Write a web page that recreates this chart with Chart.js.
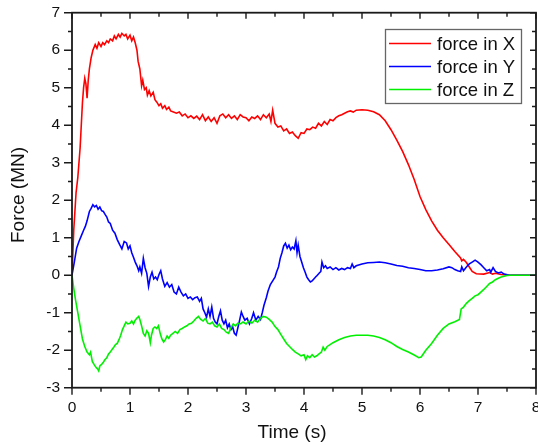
<!doctype html>
<html lang="en">
<head>
<meta charset="utf-8">
<title>Force vs time</title>
<script src="https://cdn.jsdelivr.net/npm/chart.js@4.4.0/dist/chart.umd.min.js"></script>
<style>
  html, body { margin: 0; padding: 0; background: #fff; }
  #chart { display: block; }
</style>
</head>
<body>
<canvas id="chart" width="538" height="446"></canvas>
<script>
// data: time (s) and force (MN)
var seriesNames = ['force in X', 'force in Y', 'force in Z'];

var timeX = [0,0.03,0.07,0.1,0.14,0.18,0.2,0.22,0.24,0.26,0.28,0.3,0.33,0.36,0.4,0.43,0.46,0.5,0.53,0.56,
  0.6,0.63,0.66,0.7,0.73,0.76,0.8,0.83,0.86,0.9,0.93,0.96,1.0,1.03,1.06,1.09,1.12,1.14,1.17,1.2,
  1.22,1.25,1.28,1.3,1.33,1.36,1.4,1.43,1.46,1.5,1.53,1.56,1.6,1.63,1.67,1.7,1.75,1.8,1.85,1.9,
  1.95,2.0,2.05,2.1,2.15,2.2,2.25,2.3,2.35,2.4,2.45,2.5,2.55,2.6,2.65,2.7,2.75,2.8,2.85,2.9,
  2.95,3.0,3.05,3.1,3.15,3.2,3.25,3.3,3.35,3.4,3.43,3.46,3.5,3.55,3.6,3.65,3.7,3.75,3.8,3.85,
  3.9,3.95,4.0,4.05,4.1,4.15,4.2,4.25,4.3,4.35,4.4,4.45,4.5,4.55,4.6,4.65,4.7,4.75,4.8,4.85,
  4.9,5.0,5.1,5.2,5.3,5.4,5.5,5.6,5.7,5.8,5.9,6.0,6.1,6.2,6.3,6.4,6.5,6.6,6.7,6.72,
  6.75,6.8,6.85,6.9,6.97,7.1,7.2,7.25,7.3,7.4,7.55,8];
var forceX = [0,1.2,2.2,2.6,3.4,4.6,5.0,5.25,5.1,4.72,5.2,5.5,5.8,6.0,6.15,6.05,6.2,6.1,6.2,6.15,
  6.25,6.2,6.3,6.25,6.38,6.3,6.42,6.35,6.45,6.38,6.42,6.3,6.4,6.25,6.35,6.2,6.0,5.7,5.5,5.05,
  5.2,4.95,5.0,4.8,4.92,4.78,4.88,4.68,4.62,4.52,4.57,4.45,4.52,4.42,4.48,4.38,4.35,4.32,4.35,4.25,
  4.3,4.2,4.25,4.18,4.24,4.15,4.28,4.12,4.22,4.1,4.2,4.05,4.25,4.3,4.2,4.28,4.18,4.25,4.15,4.28,
  4.22,4.2,4.12,4.22,4.18,4.25,4.15,4.28,4.2,4.3,4.1,4.4,4.05,3.95,3.98,3.85,3.9,3.78,3.82,3.72,
  3.65,3.8,3.78,3.9,3.88,3.95,3.92,4.05,3.98,4.1,4.02,4.15,4.12,4.2,4.25,4.28,4.32,4.36,4.38,4.35,
  4.4,4.41,4.4,4.36,4.28,4.12,3.88,3.6,3.3,2.95,2.55,2.1,1.75,1.45,1.2,1.0,0.82,0.63,0.46,0.38,
  0.42,0.34,0.22,0.1,0.04,0.03,0.07,0.03,0.05,0.02,0,0];

var timeY = [0,0.04,0.08,0.12,0.16,0.2,0.23,0.26,0.3,0.33,0.36,0.39,0.42,0.45,0.48,0.51,0.54,0.57,0.6,0.63,
  0.66,0.7,0.74,0.78,0.82,0.86,0.9,0.94,0.97,1.0,1.03,1.06,1.09,1.12,1.15,1.17,1.2,1.23,1.26,1.29,
  1.32,1.35,1.38,1.41,1.44,1.47,1.5,1.53,1.56,1.6,1.64,1.68,1.72,1.76,1.8,1.84,1.88,1.92,1.96,2.0,
  2.04,2.08,2.12,2.16,2.2,2.23,2.26,2.29,2.32,2.35,2.38,2.41,2.44,2.47,2.5,2.53,2.56,2.59,2.62,2.65,
  2.68,2.71,2.74,2.77,2.8,2.83,2.86,2.89,2.92,2.95,2.98,3.02,3.06,3.1,3.13,3.17,3.21,3.25,3.28,3.31,
  3.35,3.38,3.42,3.46,3.5,3.53,3.56,3.59,3.62,3.65,3.68,3.71,3.74,3.77,3.8,3.83,3.86,3.88,3.9,3.93,
  3.96,3.99,4.02,4.05,4.08,4.11,4.14,4.17,4.2,4.23,4.26,4.29,4.31,4.34,4.37,4.4,4.45,4.5,4.55,4.6,
  4.65,4.7,4.75,4.8,4.83,4.86,4.9,5.0,5.1,5.2,5.3,5.4,5.5,5.6,5.7,5.8,5.9,6.0,6.1,6.2,
  6.3,6.4,6.5,6.55,6.6,6.65,6.7,6.72,6.75,6.8,6.85,6.9,6.95,7.0,7.05,7.1,7.15,7.2,7.22,7.26,
  7.3,7.35,7.4,7.45,7.55,8];
var forceY = [0,0.35,0.72,0.9,1.05,1.2,1.3,1.45,1.7,1.78,1.88,1.82,1.86,1.76,1.82,1.72,1.7,1.62,1.55,1.42,
  1.38,1.2,1.12,0.95,0.82,0.7,0.9,0.86,0.7,0.78,0.6,0.48,0.35,0.25,0.12,0.22,0.05,0.45,0.2,0.05,
  -0.3,-0.05,0.08,-0.1,-0.05,-0.12,0.02,0.12,-0.1,-0.3,-0.2,-0.32,-0.25,-0.45,-0.5,-0.32,-0.45,-0.55,-0.5,-0.62,
  -0.58,-0.65,-0.6,-0.58,-0.7,-0.62,-0.9,-1.0,-1.12,-0.9,-1.1,-0.85,-1.15,-1.25,-1.3,-1.1,-0.95,-1.2,-1.3,-1.2,
  -1.4,-1.3,-1.45,-1.38,-1.55,-1.6,-1.4,-1.2,-0.98,-1.1,-1.2,-1.15,-1.3,-1.15,-1.0,-1.2,-1.1,-1.18,-1.0,-0.8,
  -0.6,-0.42,-0.25,-0.15,-0.05,0.1,0.22,0.45,0.6,0.78,0.85,0.72,0.8,0.68,0.75,0.7,0.92,0.6,0.8,0.5,
  0.35,0.2,0.08,-0.05,-0.12,-0.18,-0.15,-0.1,-0.05,0.0,0.05,0.1,0.35,0.2,0.25,0.18,0.22,0.15,0.2,0.14,
  0.18,0.15,0.2,0.18,0.3,0.2,0.25,0.3,0.33,0.34,0.35,0.33,0.3,0.26,0.24,0.2,0.18,0.15,0.12,0.12,
  0.14,0.17,0.22,0.2,0.15,0.12,0.1,0.22,0.12,0.22,0.3,0.35,0.4,0.35,0.28,0.2,0.12,0.15,0.08,0.2,
  0.1,0.06,0.08,0.03,0,0];

var timeZ = [0,0.03,0.06,0.1,0.14,0.18,0.22,0.26,0.3,0.32,0.35,0.38,0.41,0.44,0.46,0.48,0.51,0.54,0.57,0.6,
  0.63,0.66,0.69,0.72,0.75,0.78,0.81,0.84,0.87,0.9,0.93,0.96,1.0,1.03,1.06,1.09,1.12,1.15,1.17,1.2,
  1.23,1.26,1.29,1.32,1.35,1.37,1.4,1.43,1.46,1.49,1.52,1.55,1.58,1.61,1.64,1.67,1.7,1.74,1.78,1.82,
  1.86,1.9,1.94,1.98,2.02,2.06,2.1,2.14,2.18,2.22,2.26,2.3,2.34,2.38,2.42,2.46,2.5,2.54,2.58,2.62,
  2.66,2.7,2.74,2.78,2.82,2.86,2.9,2.95,3.0,3.05,3.1,3.15,3.2,3.25,3.3,3.35,3.4,3.45,3.5,3.55,
  3.6,3.65,3.7,3.75,3.8,3.85,3.9,3.95,4.0,4.03,4.06,4.1,4.14,4.18,4.22,4.26,4.3,4.33,4.36,4.4,
  4.45,4.5,4.55,4.6,4.7,4.8,4.9,5.0,5.1,5.2,5.3,5.4,5.5,5.6,5.7,5.8,5.9,5.98,6.02,6.1,
  6.2,6.3,6.4,6.5,6.6,6.68,6.71,6.75,6.8,6.85,6.9,6.95,7.0,7.05,7.1,7.15,7.2,7.25,7.3,7.35,
  7.4,7.5,7.55,8];
var forceZ = [0,-0.35,-0.65,-1.0,-1.35,-1.7,-1.9,-2.05,-2.12,-2.05,-2.3,-2.38,-2.45,-2.5,-2.55,-2.42,-2.38,-2.32,-2.25,-2.2,
  -2.1,-2.05,-1.98,-1.92,-1.85,-1.82,-1.72,-1.6,-1.45,-1.35,-1.25,-1.3,-1.28,-1.22,-1.3,-1.2,-1.14,-1.1,-1.18,-1.35,
  -1.55,-1.62,-1.48,-1.55,-1.8,-1.6,-1.42,-1.38,-1.42,-1.35,-1.55,-1.7,-1.78,-1.72,-1.62,-1.68,-1.6,-1.55,-1.5,-1.55,
  -1.45,-1.42,-1.38,-1.35,-1.3,-1.28,-1.22,-1.15,-1.1,-1.18,-1.22,-1.15,-1.28,-1.3,-1.25,-1.35,-1.38,-1.3,-1.42,-1.45,
  -1.52,-1.55,-1.4,-1.3,-1.35,-1.28,-1.3,-1.25,-1.3,-1.22,-1.28,-1.2,-1.25,-1.15,-1.1,-1.12,-1.18,-1.25,-1.37,-1.45,
  -1.58,-1.7,-1.82,-1.9,-1.98,-2.05,-2.1,-2.15,-2.12,-2.25,-2.15,-2.2,-2.12,-2.18,-2.15,-2.1,-2.05,-1.92,-2.0,-1.9,
  -1.85,-1.8,-1.76,-1.72,-1.66,-1.62,-1.6,-1.6,-1.6,-1.62,-1.66,-1.72,-1.8,-1.9,-1.98,-2.05,-2.13,-2.2,-2.18,-2.0,
  -1.82,-1.6,-1.42,-1.3,-1.24,-1.18,-0.9,-0.85,-0.75,-0.68,-0.62,-0.55,-0.52,-0.45,-0.38,-0.3,-0.22,-0.18,-0.12,-0.08,
  -0.05,-0.01,0,0];

var colors = ['#ff0000', '#0000ff', '#00f000'];

function pairs(t, v) {
  var out = [];
  for (var i = 0; i < t.length; i++) out.push({x: t[i], y: v[i]});
  return out;
}

var FONT = '"Liberation Sans", Arial, sans-serif';

// frame, in/out ticks, axis titles and the boxed legend
var decor = {
  id: 'decor',
  afterDraw: function(chart) {
    var ctx = chart.ctx, a = chart.chartArea;
    var xs = chart.scales.x, ys = chart.scales.y;
    ctx.save();
    ctx.strokeStyle = '#1a1a1a';
    ctx.lineWidth = 1.8;
    ctx.strokeRect(a.left, a.top, a.right - a.left, a.bottom - a.top);

    ctx.lineWidth = 1.4;
    ctx.beginPath();
    for (var v = 0; v <= 8.001; v += 0.5) {
      var px = xs.getPixelForValue(v);
      var major = Math.abs(v - Math.round(v)) < 0.01;
      ctx.moveTo(px, a.bottom); ctx.lineTo(px, a.bottom + (major ? 7 : 4));
      ctx.moveTo(px, a.top); ctx.lineTo(px, a.top + (major ? 6 : 4));
    }
    for (var w = -3; w <= 7.001; w += 0.5) {
      var py = ys.getPixelForValue(w);
      var maj = Math.abs(w - Math.round(w)) < 0.01;
      ctx.moveTo(a.left, py); ctx.lineTo(a.left - (maj ? 8 : 4), py);
      ctx.moveTo(a.right, py); ctx.lineTo(a.right - (maj ? 6 : 4), py);
    }
    ctx.stroke();

    // axis titles
    ctx.fillStyle = '#111';
    ctx.font = '19px ' + FONT;
    ctx.textAlign = 'center';
    ctx.textBaseline = 'alphabetic';
    ctx.fillText('Time (s)', 292, 438);
    ctx.save();
    ctx.translate(24, 195);
    ctx.rotate(-Math.PI / 2);
    ctx.fillText('Force (MN)', 0, 0);
    ctx.restore();

    // legend
    ctx.strokeStyle = '#666';
    ctx.lineWidth = 1.3;
    ctx.strokeRect(385.5, 29.5, 136, 74);
    ctx.font = '18.5px ' + FONT;
    ctx.textAlign = 'left';
    ctx.textBaseline = 'middle';
    var rows = [43.5, 66.5, 89.5];
    chart.data.datasets.forEach(function(ds, i) {
      ctx.strokeStyle = ds.borderColor;
      ctx.lineWidth = 1.4;
      ctx.beginPath();
      ctx.moveTo(389, rows[i]); ctx.lineTo(431, rows[i]);
      ctx.stroke();
      ctx.fillStyle = '#111';
      ctx.fillText(ds.label, 437, rows[i] + 1);
    });
    ctx.restore();
  }
};

var datasets = [
  {label: seriesNames[0], data: pairs(timeX, forceX), borderColor: colors[0], order: 3},
  {label: seriesNames[1], data: pairs(timeY, forceY), borderColor: colors[1], order: 2},
  {label: seriesNames[2], data: pairs(timeZ, forceZ), borderColor: colors[2], order: 1}
];
datasets.forEach(function(d) {
  d.borderWidth = 1.6;
  d.pointRadius = 0;
  d.fill = false;
  d.tension = 0;
});

var ctx = document.getElementById('chart').getContext('2d');
var chart = new Chart(ctx, {
  type: 'line',
  data: {datasets: datasets},
  options: {
    responsive: false,
    animation: false,
    devicePixelRatio: 1,
    layout: {padding: {left: 0, right: 2, top: 12.7, bottom: 0}},
    plugins: {legend: {display: false}, tooltip: {enabled: false}},
    scales: {
      x: {
        type: 'linear', min: 0, max: 8,
        grid: {display: false, drawTicks: false},
        border: {display: false},
        ticks: {stepSize: 1, padding: 11, color: '#111', maxRotation: 0,
                font: {family: FONT, size: 15.5}},
        afterFit: function(s) { s.height = 446 - 387.7; s.paddingLeft = 0; s.paddingRight = 0; }
      },
      y: {
        type: 'linear', min: -3, max: 7,
        grid: {display: false, drawTicks: false},
        border: {display: false},
        ticks: {stepSize: 1, padding: 12, color: '#111',
                font: {family: FONT, size: 15.5}},
        afterFit: function(s) { s.width = 72; s.paddingTop = 0; s.paddingBottom = 0; }
      }
    }
  },
  plugins: [decor]
});
</script>
</body>
</html>
